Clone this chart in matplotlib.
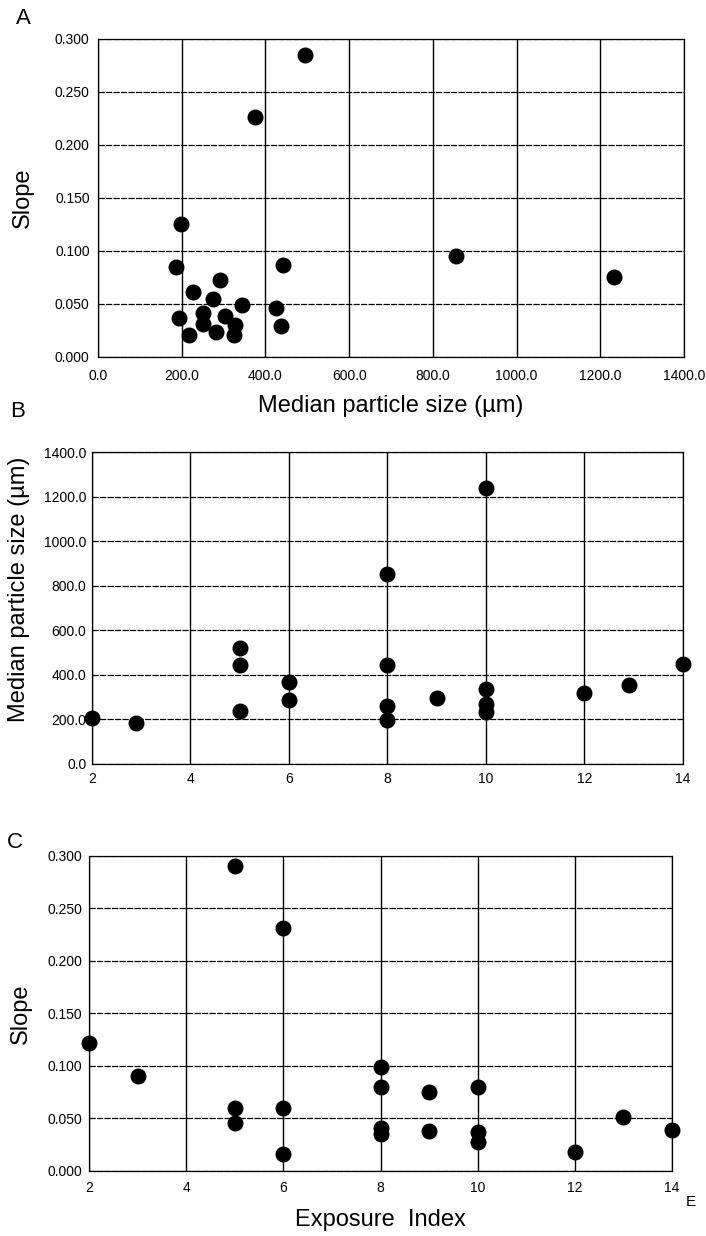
import matplotlib
matplotlib.use("Agg")
import matplotlib.pyplot as plt

plt.rcParams['font.family'] = ['Liberation Sans', 'DejaVu Sans']

# Panel A: median particle size vs slope
size_a = [495, 375, 198, 186, 291, 228, 274, 345, 194, 250, 250, 303, 327, 325,
          218, 282, 426, 441, 438, 855, 1234]
slope_a = [0.285, 0.226, 0.125, 0.085, 0.073, 0.061, 0.055, 0.049, 0.037, 0.041,
           0.031, 0.039, 0.030, 0.021, 0.021, 0.024, 0.046, 0.087, 0.029, 0.095, 0.075]

# Panel B: exposure index vs median particle size
exp_b = [2, 2.9, 5, 5, 5, 6, 6, 8, 8, 8, 8, 9, 10, 10, 10, 10, 12, 12.9, 14]
size_b = [205, 183, 522, 443, 238, 370, 285, 852, 444, 262, 197, 297, 1240,
          336, 270, 232, 318, 355, 450]

# Panel C: exposure index vs slope
exp_c = [2, 3, 5, 6, 5, 5, 6, 6, 8, 8, 8, 8, 9, 9, 10, 10, 10, 12, 13, 14]
slope_c = [0.122, 0.090, 0.290, 0.231, 0.060, 0.046, 0.060, 0.016, 0.099, 0.080,
           0.041, 0.035, 0.075, 0.038, 0.080, 0.037, 0.028, 0.018, 0.051, 0.039]

slope_ticks = [0.0, 0.05, 0.10, 0.15, 0.20, 0.25, 0.30]
slope_labels = ["0.000", "0.050", "0.100", "0.150", "0.200", "0.250", "0.300"]
size_ticks = [0, 200, 400, 600, 800, 1000, 1200, 1400]
size_labels = ["0.0", "200.0", "400.0", "600.0", "800.0", "1000.0", "1200.0", "1400.0"]
exp_ticks = [2, 4, 6, 8, 10, 12, 14]
exp_labels = ["2", "4", "6", "8", "10", "12", "14"]


def style_axes(ax):
    ax.set_axisbelow(True)
    ax.xaxis.grid(True, color="black", linewidth=1.0)
    ax.yaxis.grid(True, color="black", linewidth=0.9, linestyle=(0, (5, 1)))
    for side in ax.spines.values():
        side.set_color("black")
        side.set_linewidth(0.9)
    for s in ("left", "bottom"):
        ax.spines[s].set_linestyle((0, (3, 1)))
    ax.tick_params(length=0, labelsize=10, colors="black")


fig = plt.figure(figsize=(7.06, 12.36), dpi=100)

ax_a = fig.add_axes([0.1388, 0.7112, 0.830, 0.2573])
ax_b = fig.add_axes([0.1303, 0.3819, 0.837, 0.2524])
ax_c = fig.add_axes([0.1261, 0.0526, 0.8258, 0.2549])

# A
ax_a.plot(size_a, slope_a, "o", color="black", markersize=10.5)
ax_a.set_xlim(0, 1400)
ax_a.set_ylim(0, 0.3)
ax_a.set_xticks(size_ticks)
ax_a.set_xticklabels(size_labels)
ax_a.set_yticks(slope_ticks)
ax_a.set_yticklabels(slope_labels)
style_axes(ax_a)
ax_a.tick_params(axis="x", pad=9)
ax_a.tick_params(axis="y", pad=6)
ax_a.set_xlabel("Median particle size (µm)", fontsize=17)
ax_a.xaxis.set_label_coords(0.5, -0.119)
ax_a.set_ylabel("Slope", fontsize=17)
ax_a.yaxis.set_label_coords(-0.109, 0.5)

# B
ax_b.plot(exp_b, size_b, "o", color="black", markersize=10.5, clip_on=False)
ax_b.set_xlim(2, 14)
ax_b.set_ylim(0, 1400)
ax_b.set_xticks(exp_ticks)
ax_b.set_xticklabels(exp_labels)
ax_b.set_yticks(size_ticks)
ax_b.set_yticklabels(size_labels)
style_axes(ax_b)
ax_b.tick_params(axis="x", pad=6)
ax_b.tick_params(axis="y", pad=4)
ax_b.set_ylabel("Median particle size (µm)", fontsize=17)
ax_b.yaxis.set_label_coords(-0.105, 0.56)

# C
ax_c.plot(exp_c, slope_c, "o", color="black", markersize=10.5, clip_on=False)
ax_c.set_xlim(2, 14)
ax_c.set_ylim(0, 0.3)
ax_c.set_xticks(exp_ticks)
ax_c.set_xticklabels(exp_labels)
ax_c.set_yticks(slope_ticks)
ax_c.set_yticklabels(slope_labels)
style_axes(ax_c)
ax_c.tick_params(axis="x", pad=7)
ax_c.tick_params(axis="y", pad=5)
ax_c.set_xlabel("Exposure  Index", fontsize=17)
ax_c.xaxis.set_label_coords(0.5, -0.121)
ax_c.set_ylabel("Slope", fontsize=17)
ax_c.yaxis.set_label_coords(-0.098, 0.5)

# panel letters and stray mark
fig.text(23 / 706, 1 - 18 / 1236, "A", fontsize=16, ha="center", va="center")
fig.text(18 / 706, 1 - 412 / 1236, "B", fontsize=16, ha="center", va="center")
fig.text(15 / 706, 1 - 842 / 1236, "C", fontsize=16, ha="center", va="center")
fig.text(691 / 706, 1 - 1202 / 1236, "E", fontsize=11, ha="center", va="center")

fig.savefig("out.png", dpi=100)
